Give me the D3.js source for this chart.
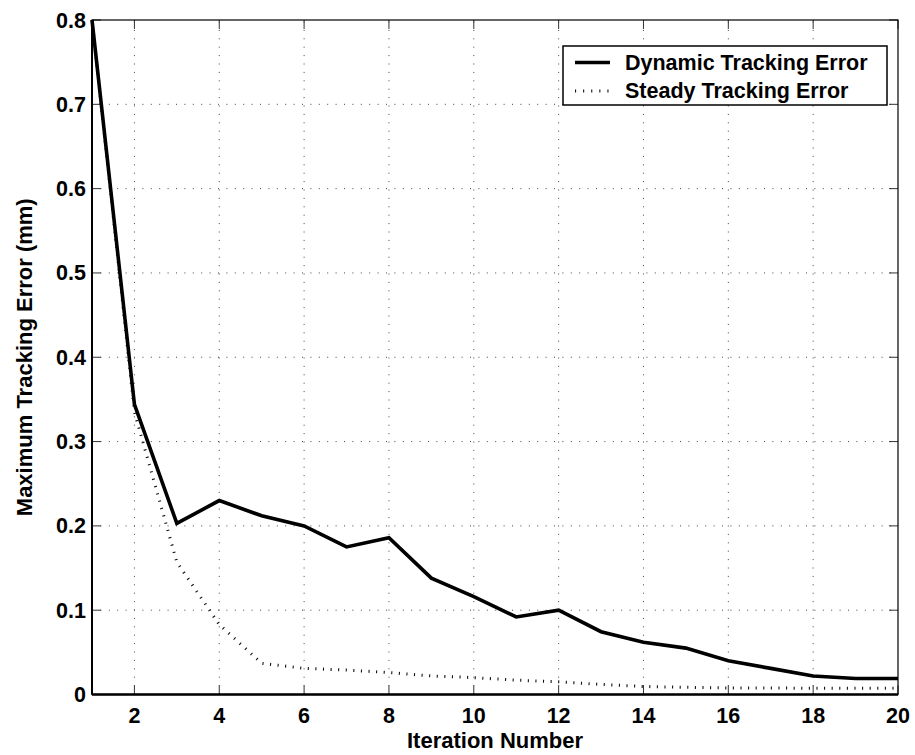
<!DOCTYPE html>
<html>
<head>
<meta charset="utf-8">
<script src="https://cdn.jsdelivr.net/npm/d3@7"></script>
<style>
  html, body { margin: 0; padding: 0; background: #fff; }
  svg text { font-family: Arial, "Liberation Sans", Helvetica, sans-serif; font-weight: bold; fill: #000; }
</style>
</head>
<body>
<svg id="chart" width="915" height="755"></svg>
<script>
// Iteration numbers and the two error series (mm)
const iterations = [1,2,3,4,5,6,7,8,9,10,11,12,13,14,15,16,17,18,19,20];
const dynamicError = [0.800,0.344,0.203,0.230,0.212,0.200,0.175,0.186,0.138,0.116,0.092,0.100,0.0745,0.062,0.055,0.040,0.031,0.022,0.019,0.019];
const steadyError  = [0.800,0.335,0.157,0.083,0.037,0.031,0.029,0.026,0.022,0.020,0.017,0.015,0.012,0.0095,0.0085,0.0078,0.0076,0.0075,0.0074,0.0074];
const xTicks = [2,4,6,8,10,12,14,16,18,20];
const yTicks = [0,0.1,0.2,0.3,0.4,0.5,0.6,0.7,0.8];
const yTickLabels = ["0","0.1","0.2","0.3","0.4","0.5","0.6","0.7","0.8"];
const seriesNames = ["Dynamic Tracking Error", "Steady Tracking Error"];

const svg = d3.select("#chart");
const m = {left: 92, right: 898, top: 20, bottom: 694.5};

const x = d3.scaleLinear().domain([1, 20]).range([m.left, m.right]);
const y = d3.scaleLinear().domain([0, 0.8]).range([m.bottom, m.top]);

// dotted grid
const grid = svg.append("g");
grid.selectAll("line.gx").data(xTicks.filter(d => d < 20)).join("line")
  .attr("x1", d => x(d)).attr("x2", d => x(d))
  .attr("y1", m.bottom).attr("y2", m.top)
  .attr("stroke", "#444").attr("stroke-width", 1)
  .attr("stroke-dasharray", "1,7.4");
grid.selectAll("line.gy").data(yTicks.filter(d => d > 0 && d < 0.8)).join("line")
  .attr("x1", m.left).attr("x2", m.right)
  .attr("y1", d => y(d)).attr("y2", d => y(d))
  .attr("stroke", "#444").attr("stroke-width", 1)
  .attr("stroke-dasharray", "1,7.4");

// inward tick marks on all four sides
const tl = 9;
const ticks = svg.append("g").attr("stroke", "#333").attr("stroke-width", 1);
xTicks.forEach(d => {
  ticks.append("line").attr("x1", x(d)).attr("x2", x(d)).attr("y1", m.bottom).attr("y2", m.bottom - tl);
  ticks.append("line").attr("x1", x(d)).attr("x2", x(d)).attr("y1", m.top).attr("y2", m.top + tl);
});
yTicks.forEach(d => {
  ticks.append("line").attr("x1", m.left).attr("x2", m.left + tl).attr("y1", y(d)).attr("y2", y(d));
  ticks.append("line").attr("x1", m.right).attr("x2", m.right - tl).attr("y1", y(d)).attr("y2", y(d));
});

// series lines
const line = d3.line().x(d => x(d[0])).y(d => y(d[1]));
svg.append("path")
  .datum(iterations.map((it, i) => [it, steadyError[i]]))
  .attr("d", line).attr("fill", "none")
  .attr("stroke", "#111").attr("stroke-width", 3)
  .attr("stroke-dasharray", "1.1,6.5");
svg.append("path")
  .datum(iterations.map((it, i) => [it, dynamicError[i]]))
  .attr("d", line).attr("fill", "none")
  .attr("stroke", "#000").attr("stroke-width", 3.6)
  .attr("stroke-linejoin", "miter");

// axes box
svg.append("rect")
  .attr("x", m.left).attr("y", m.top)
  .attr("width", m.right - m.left).attr("height", m.bottom - m.top)
  .attr("fill", "none").attr("stroke", "#000").attr("stroke-width", 1.2);
svg.append("line").attr("x1", m.left).attr("x2", m.right).attr("y1", m.bottom).attr("y2", m.bottom)
  .attr("stroke", "#000").attr("stroke-width", 2.4);
svg.append("line").attr("x1", m.left).attr("x2", m.left).attr("y1", m.top).attr("y2", m.bottom)
  .attr("stroke", "#000").attr("stroke-width", 2);

// tick labels
svg.append("g").selectAll("text").data(xTicks).join("text")
  .attr("x", d => x(d)).attr("y", 723)
  .attr("text-anchor", "middle").attr("font-size", 21.5)
  .text(d => d);
svg.append("g").selectAll("text").data(yTicks).join("text")
  .attr("x", 86).attr("y", d => y(d) + 7.5)
  .attr("text-anchor", "end").attr("font-size", 21.5)
  .text((d, i) => yTickLabels[i]);

// axis titles
svg.append("text").attr("x", (m.left + m.right) / 2).attr("y", 748)
  .attr("text-anchor", "middle").attr("font-size", 22)
  .text("Iteration Number");
svg.append("text")
  .attr("transform", `translate(32,${(m.top + m.bottom) / 2}) rotate(-90)`)
  .attr("text-anchor", "middle").attr("font-size", 22)
  .text("Maximum Tracking Error (mm)");

// legend
const lg = svg.append("g");
lg.append("rect").attr("x", 563).attr("y", 46).attr("width", 324).attr("height", 59)
  .attr("fill", "#fff").attr("stroke", "#000").attr("stroke-width", 1.5);
lg.append("line").attr("x1", 575).attr("x2", 610).attr("y1", 62.5).attr("y2", 62.5)
  .attr("stroke", "#000").attr("stroke-width", 3.6);
lg.append("line").attr("x1", 575).attr("x2", 612).attr("y1", 91).attr("y2", 91)
  .attr("stroke", "#111").attr("stroke-width", 3)
  .attr("stroke-dasharray", "1.1,7");
lg.append("text").attr("x", 625).attr("y", 69.5).attr("font-size", 21.5).text(seriesNames[0]);
lg.append("text").attr("x", 625).attr("y", 98).attr("font-size", 21.5).text(seriesNames[1]);
</script>
</body>
</html>
